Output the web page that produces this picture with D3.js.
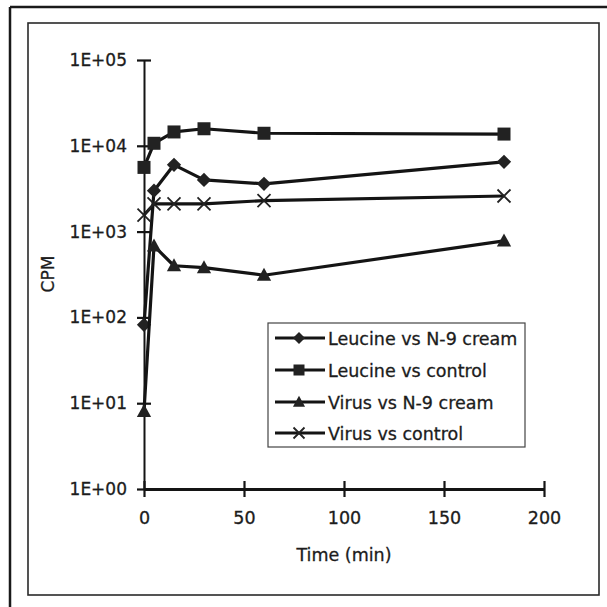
<!DOCTYPE html>
<html>
<head>
<meta charset="utf-8">
<script src="https://cdn.jsdelivr.net/npm/d3@7"></script>
<style>
  body { margin: 0; background: #fff; }
  svg { display: block; font-family: "DejaVu Sans", sans-serif; }
  text { fill: #1c1c1c; stroke: #1c1c1c; stroke-width: 0.3; }
</style>
</head>
<body>
<svg id="chart"></svg>
<script>
// data
var times = [0, 5, 15, 30, 60, 180];
var leucineN9 = [82, 3000, 6000, 4000, 3600, 6500];
var leucineControl = [5600, 10700, 14500, 15800, 14000, 13700];
var virusN9 = [8, 680, 400, 380, 310, 780];
var virusControl = [1560, 2100, 2100, 2100, 2300, 2600];

var seriesNames = ['Leucine vs N-9 cream', 'Leucine vs control', 'Virus vs N-9 cream', 'Virus vs control'];
var seriesShapes = ['diamond', 'square', 'triangle', 'cross'];
var seriesValues = [leucineN9, leucineControl, virusN9, virusControl];

var xTicks = [0, 50, 100, 150, 200];
var yTicks = [1, 10, 100, 1000, 10000, 100000];
var yTickLabels = ['1E+00', '1E+01', '1E+02', '1E+03', '1E+04', '1E+05'];

var W = 607, H = 607;
var ink = '#141414';

var svg = d3.select('#chart').attr('width', W).attr('height', H);

// outer frame (only top and left show)
svg.append('line').attr('x1', 10).attr('y1', 7).attr('x2', W).attr('y2', 7)
	.attr('stroke', '#1a1a1a').attr('stroke-width', 2.5);
svg.append('line').attr('x1', 10).attr('y1', 7).attr('x2', 10).attr('y2', H)
	.attr('stroke', '#1a1a1a').attr('stroke-width', 2.5);

// inner frame
svg.append('rect').attr('x', 28).attr('y', 23).attr('width', 571).attr('height', 572)
	.attr('fill', 'none').attr('stroke', '#2a2a2a').attr('stroke-width', 1.6);

var x = d3.scaleLinear().domain([0, 200]).range([144, 544]);
var y = d3.scaleLog().domain([1, 100000]).range([489, 60]);

// y axis
var yAxis = svg.append('g').attr('transform', 'translate(' + x(0) + ',0)')
	.call(d3.axisLeft(y).tickValues(yTicks)
		.tickFormat(function(d, i) { return yTickLabels[i]; })
		.tickSize(7).tickSizeOuter(0).tickPadding(10));
yAxis.select('.domain').attr('stroke', ink).attr('stroke-width', 2);
yAxis.selectAll('.tick line').attr('x1', 7).attr('x2', -7).attr('stroke', ink).attr('stroke-width', 2.2);
yAxis.selectAll('.tick text').attr('font-size', 17)
	.attr('font-family', '"DejaVu Sans", sans-serif');

// x axis
var xAxis = svg.append('g').attr('transform', 'translate(0,' + y(1) + ')')
	.call(d3.axisBottom(x).tickValues(xTicks).tickSize(8).tickSizeOuter(0).tickPadding(15));
xAxis.select('.domain').attr('stroke', ink).attr('stroke-width', 3);
xAxis.selectAll('.tick line').attr('y1', -8).attr('y2', 8).attr('stroke', ink).attr('stroke-width', 2.2);
xAxis.selectAll('.tick text').attr('font-size', 17.5)
	.attr('font-family', '"DejaVu Sans", sans-serif');

// axis titles
svg.append('text').attr('x', x(100)).attr('y', 561).attr('text-anchor', 'middle')
	.attr('font-size', 17.5).text('Time (min)');
svg.append('text').attr('transform', 'translate(54,274) rotate(-90)').attr('text-anchor', 'middle')
	.attr('font-size', 17).text('CPM');

function drawMarker(g, shape, cx, cy, s) {
	if (shape == 'square') {
		g.append('rect').attr('x', cx - s / 2).attr('y', cy - s / 2).attr('width', s).attr('height', s)
			.attr('fill', '#222');
	} else if (shape == 'diamond') {
		var r = s * 0.55;
		g.append('path').attr('d', 'M' + cx + ',' + (cy - r) + 'L' + (cx + r) + ',' + cy + 'L' + cx + ',' + (cy + r) + 'L' + (cx - r) + ',' + cy + 'Z')
			.attr('fill', '#222');
	} else if (shape == 'triangle') {
		var h = s * 0.95;
		g.append('path').attr('d', 'M' + cx + ',' + (cy - h * 0.6) + 'L' + (cx + s * 0.55) + ',' + (cy + h * 0.45) + 'L' + (cx - s * 0.55) + ',' + (cy + h * 0.45) + 'Z')
			.attr('fill', '#222');
	} else {
		var c = s * 0.5;
		g.append('path').attr('d', 'M' + (cx - c) + ',' + (cy - c) + 'L' + (cx + c) + ',' + (cy + c) + 'M' + (cx + c) + ',' + (cy - c) + 'L' + (cx - c) + ',' + (cy + c))
			.attr('stroke', '#222').attr('stroke-width', 1.8).attr('fill', 'none');
	}
}

var line = d3.line()
	.x(function(d) { return x(d[0]); })
	.y(function(d) { return y(d[1]); });

seriesValues.forEach(function(vals, k) {
	var pts = times.map(function(t, i) { return [t, vals[i]]; });
	var g = svg.append('g').classed('series', true);
	g.append('path').attr('d', line(pts)).attr('fill', 'none')
		.attr('stroke', ink).attr('stroke-width', 3.2).attr('stroke-linejoin', 'round');
	pts.forEach(function(p) {
		drawMarker(g, seriesShapes[k], x(p[0]), y(p[1]), 13);
	});
});

// legend
var legend = svg.append('g').classed('legend', true);
legend.append('rect').attr('x', 268).attr('y', 323).attr('width', 257).attr('height', 124)
	.attr('fill', '#fff').attr('stroke', '#444').attr('stroke-width', 1.2);
var rowY = [338, 370, 402, 433];
seriesNames.forEach(function(name, k) {
	legend.append('line').attr('x1', 275).attr('x2', 325).attr('y1', rowY[k]).attr('y2', rowY[k])
		.attr('stroke', ink).attr('stroke-width', 3.2);
	drawMarker(legend, seriesShapes[k], 299, rowY[k], 11);
	legend.append('text').attr('x', 328).attr('y', rowY[k] + 6.5)
		.attr('font-size', 17.5).text(name);
});
</script>
</body>
</html>
